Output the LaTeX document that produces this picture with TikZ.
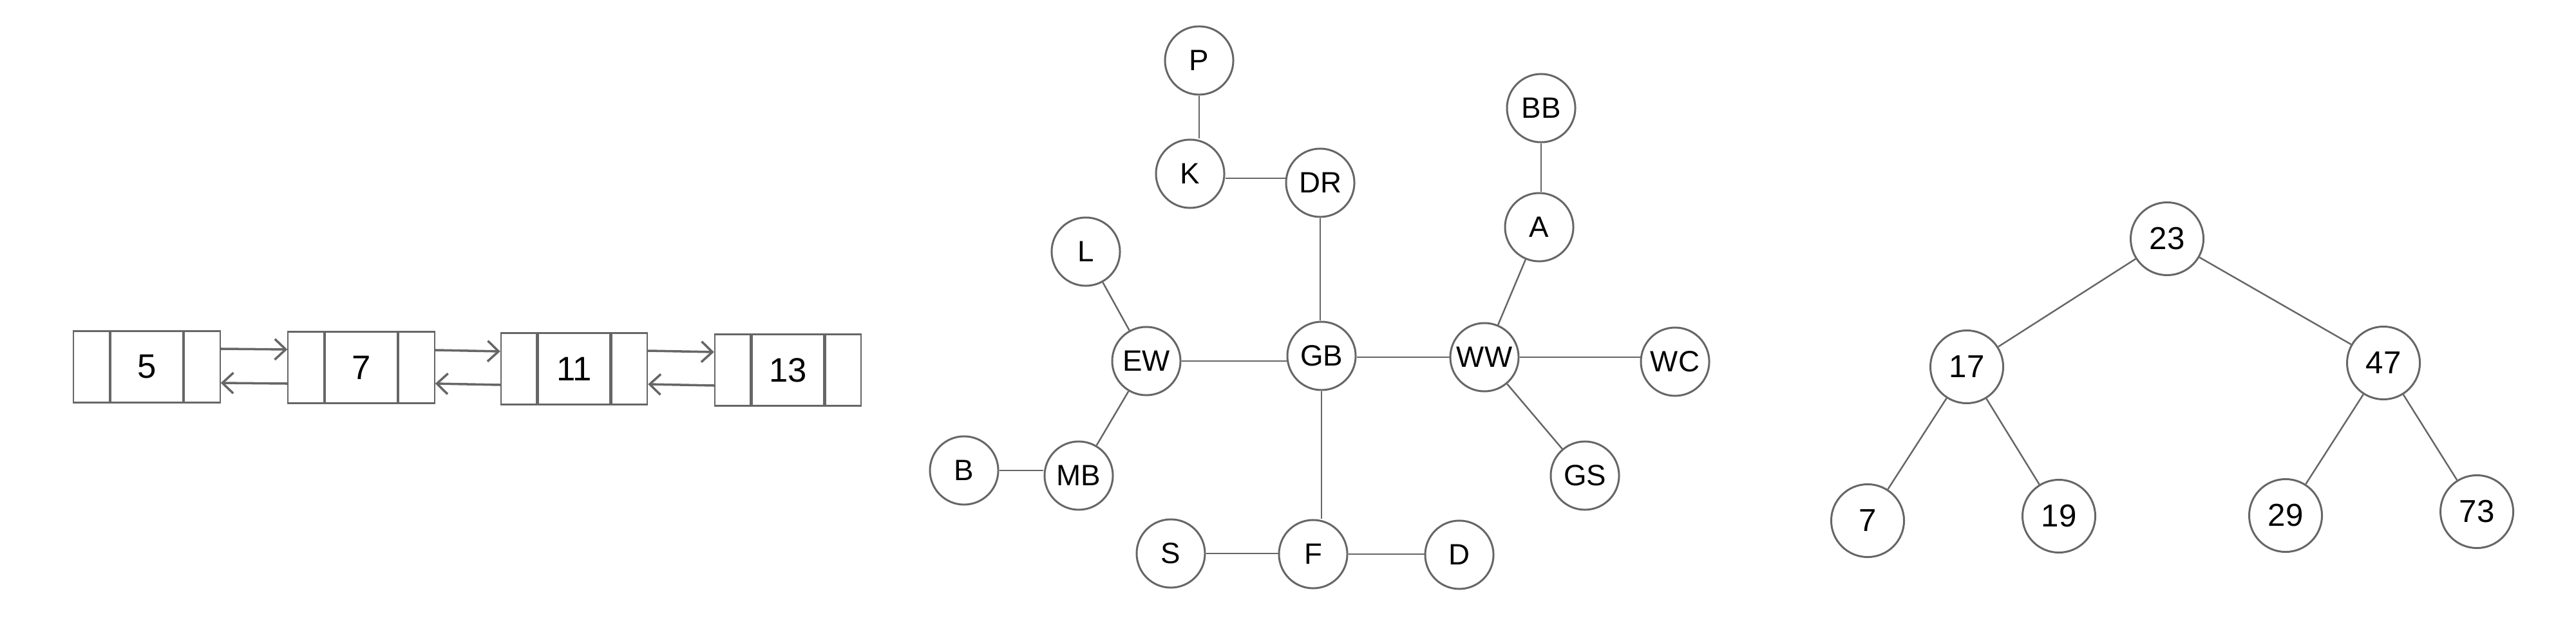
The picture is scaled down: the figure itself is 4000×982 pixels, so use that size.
\documentclass[tikz,border=0pt]{standalone}
\usepackage{fontspec}
\setmainfont{Liberation Sans}
\usetikzlibrary{arrows.meta}
\definecolor{ink}{HTML}{666666}
\begin{document}
\begin{tikzpicture}[x=0.01cm,y=-0.01cm,
  gnode/.style={circle,draw=ink,line width=0.85pt,minimum size=1.06cm,inner sep=0pt,font=\fontsize{13}{13}\selectfont},
  tnode/.style={circle,draw=ink,line width=0.85pt,minimum size=1.13cm,inner sep=0pt,font=\fontsize{14}{14}\selectfont},
  gline/.style={draw=ink,line width=0.7pt},
  valcell/.style={rectangle,draw=ink,line width=0.6pt,minimum width=1.12cm,minimum height=1.11cm,inner sep=0pt,font=\fontsize{15}{15}\selectfont},
  ptrcell/.style={rectangle,draw=ink,line width=0.6pt,minimum width=0.555cm,minimum height=1.11cm,inner sep=0pt},
  listarrow/.style={draw=ink,line width=1pt,-{Straight Barb[length=0.17cm,width=0.32cm,line width=1pt]}},
]
\useasboundingbox (0,0) rectangle (4000,982);

% ---------- doubly linked list ----------
\node[valcell] (a5) at (228,570) {5};
\node[ptrcell,anchor=east] (a5l) at (a5.west) {};
\node[ptrcell,anchor=west] (a5r) at (a5.east) {};
\node[valcell] (a7) at (561,571) {7};
\node[ptrcell,anchor=east] (a7l) at (a7.west) {};
\node[ptrcell,anchor=west] (a7r) at (a7.east) {};
\node[valcell] (a11) at (891.5,573) {11};
\node[ptrcell,anchor=east] (a11l) at (a11.west) {};
\node[ptrcell,anchor=west] (a11r) at (a11.east) {};
\node[valcell] (a13) at (1223.5,575) {13};
\node[ptrcell,anchor=east] (a13l) at (a13.west) {};
\node[ptrcell,anchor=west] (a13r) at (a13.east) {};

\draw[listarrow] ([yshift=0.28cm]a5r.east) -- ([yshift=0.28cm]a7l.west);
\draw[listarrow] ([yshift=-0.25cm]a7l.west) -- ([yshift=-0.25cm]a5r.east);
\draw[listarrow] ([yshift=0.27cm]a7r.east) -- ([yshift=0.27cm]a11l.west);
\draw[listarrow] ([yshift=-0.25cm]a11l.west) -- ([yshift=-0.25cm]a7r.east);
\draw[listarrow] ([yshift=0.28cm]a11r.east) -- ([yshift=0.28cm]a13l.west);
\draw[listarrow] ([yshift=-0.24cm]a13l.west) -- ([yshift=-0.24cm]a11r.east);

% ---------- graph ----------
\node[gnode] (P)  at (1862,94)  {P};
\node[gnode] (K)  at (1848,270) {K};
\node[gnode] (DR) at (2050,284) {DR};
\node[gnode] (L)  at (1686,391) {L};
\node[gnode] (EW) at (1780,561) {EW};
\node[gnode] (GB) at (2052,553) {GB};
\node[gnode] (WW) at (2305,555) {WW};
\node[gnode] (WC) at (2601,562) {WC};
\node[gnode] (GS) at (2461,739) {GS};
\node[gnode] (A)  at (2390,353) {A};
\node[gnode] (BB) at (2393,168) {BB};
\node[gnode] (MB) at (1675,739) {MB};
\node[gnode] (B)  at (1497,731) {B};
\node[gnode] (S)  at (1818,860) {S};
\node[gnode] (F)  at (2039,861) {F};
\node[gnode] (D)  at (2266,862) {D};

\draw[gline] (P.south) -- (P.south |- K.north);
\draw[gline] ([yshift=-0.07cm]K.east) -- ([yshift=-0.07cm]K.east -| DR.west);
\draw[gline] (DR.south) -- (DR.south |- GB.north);
\draw[gline] (L) -- (EW);
\draw[gline] (EW.east) -- (EW.east -| GB.west);
\draw[gline] (EW) -- (MB);
\draw[gline] (B.east) -- (B.east -| MB.west);
\draw[gline] (GB.south) -- (GB.south |- F.north);
\draw[gline] (S.east) -- (S.east -| F.west);
\draw[gline] (F.east) -- (F.east -| D.west);
\draw[gline] (WW.west -| GB.east) -- (WW.west);
\draw[gline] (WW) -- (A);
\draw[gline] (BB.south) -- (BB.south |- A.north);
\draw[gline] (WW.east) -- (WW.east -| WC.west);
\draw[gline] (WW) -- (GS);

% ---------- binary tree ----------
\node[tnode] (t23) at (3365,371) {23};
\node[tnode] (t17) at (3054,570) {17};
\node[tnode] (t47) at (3701,564) {47};
\node[tnode] (t7)  at (2900,809) {7};
\node[tnode] (t19) at (3197,802) {19};
\node[tnode] (t29) at (3549,801) {29};
\node[tnode] (t73) at (3846,795) {73};

\draw[gline] (t23) -- (t17);
\draw[gline] (t23) -- (t47);
\draw[gline] (t17) -- (t7);
\draw[gline] (t17) -- (t19);
\draw[gline] (t47) -- (t29);
\draw[gline] (t47) -- (t73);
\end{tikzpicture}
\end{document}
